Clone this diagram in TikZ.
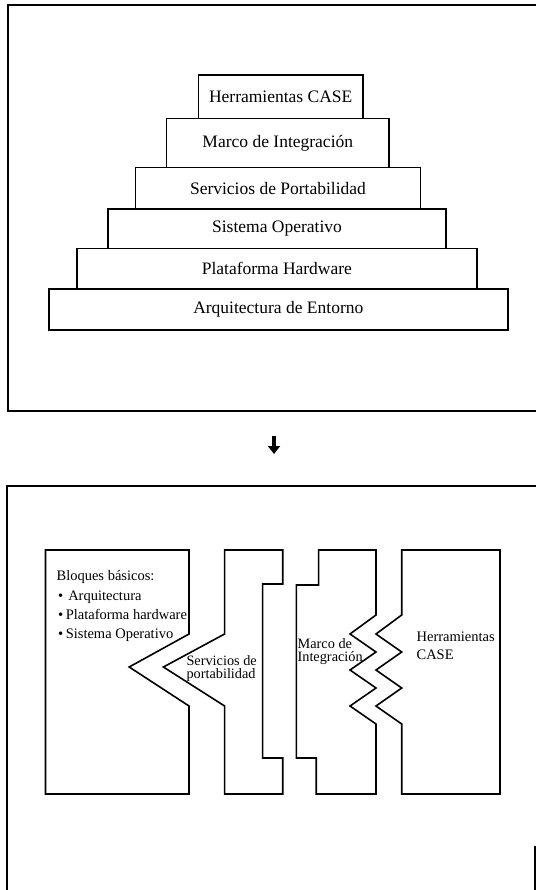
\documentclass[tikz,border=0pt]{standalone}
\usepackage{fontspec}
\setmainfont{Liberation Serif}
\usetikzlibrary{arrows.meta}
\begin{document}
\begin{tikzpicture}[x=1bp,y=-1bp,
  frame/.style={line width=2bp},
  pbox/.style={draw,line width=1.6bp,inner sep=0pt,outer sep=0pt,
    font=\fontsize{17.5bp}{20bp}\selectfont},
  blk/.style={draw,line width=1.6bp,line join=miter},
  btxt/.style={inner sep=0pt,anchor=base west,font=\fontsize{14.5bp}{14.5bp}\selectfont},
  mtxt/.style={inner sep=0pt,anchor=base west,align=left}]
\useasboundingbox (0,0) rectangle (536,890);
% top frame
\draw[frame] (536,4.7) -- (7.5,4.7) -- (7.5,410.5) -- (536,410.5);
% pyramid
\node[pbox,minimum width=164.8bp,minimum height=43.5bp] (herr) at (280.7,96.75) {Herramientas CASE};
\node[pbox,minimum width=222.6bp,minimum height=49bp] (marco) at (277.8,143) {Marco de Integración};
\node[pbox,minimum width=285.1bp,minimum height=41.5bp] (serv) at (278,188.25) {Servicios de Portabilidad};
\node[pbox,minimum width=338.5bp,minimum height=39.5bp] (so) at (277,228.75) {Sistema Operativo};
\node[pbox,minimum width=400bp,minimum height=40.5bp] (plat) at (276.9,268.75) {Plataforma Hardware};
\node[pbox,minimum width=458.8bp,minimum height=41bp] (arq) at (278.3,309.5) {Arquitectura de Entorno};
% arrow
\coordinate (as) at (274,436);
\coordinate (ae) at (274,454);
\draw[line width=3.2bp,-{Triangle[width=12bp,length=8bp]}] (as) -- (ae);
% bottom frame
\draw[frame] (536,486) -- (7,486) -- (7,890);
\draw[frame] (535,846) -- (535,890);
% blocks
\draw[blk] (45.5,550) -- (189,550) -- (189,634) -- (129.2,667) -- (189,706) -- (189,794) -- (45.5,794) -- cycle;
\draw[blk] (224.6,550) -- (282.7,550) -- (282.7,584) -- (262.6,584) -- (262.6,758) -- (282.7,758) -- (282.7,794) -- (224.6,794) -- (224.6,706) -- (163.4,667) -- (224.6,634) -- cycle;
\draw[blk] (318.6,550) -- (376,550) -- (376,615) -- (350,634) -- (376,652) -- (350,670) -- (376,688) -- (350,706) -- (376,724) -- (376,794) -- (316.2,794) -- (316.2,758) -- (296.4,758) -- (296.4,585) -- (318.6,585) -- cycle;
\draw[blk] (401.7,550) -- (500,550) -- (500,794) -- (401.7,794) -- (401.7,724) -- (376,706) -- (401.7,688) -- (376,670) -- (401.7,652) -- (376,634) -- (401.7,615) -- cycle;
% texts
\node[btxt] (bq) at (56.4,580) {Bloques básicos:};
\node[btxt] (b1) at (58,600) {\textbullet\hspace{5bp}Arquitectura};
\node[btxt] (b2) at (58,619) {\textbullet\hspace{2.5bp}Plataforma hardware};
\node[btxt] (b3) at (58,638) {\textbullet\hspace{2.5bp}Sistema Operativo};
\node[mtxt,font=\fontsize{14.3bp}{13.5bp}\selectfont] (sv) at (186.3,678.5) {Servicios de\\portabilidad};
\node[mtxt,font=\fontsize{14.3bp}{13.5bp}\selectfont] (mi) at (297.4,661.5) {Marco de\\Integración};
\node[mtxt,font=\fontsize{14.5bp}{18bp}\selectfont] (hc) at (416.4,659) {Herramientas\\CASE};
\end{tikzpicture}
\end{document}
